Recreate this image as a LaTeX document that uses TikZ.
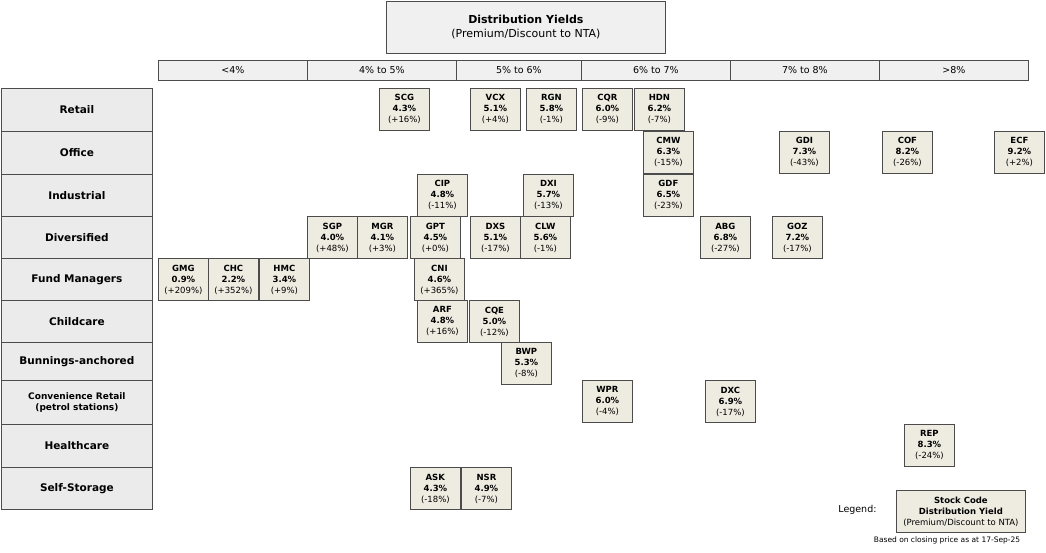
\documentclass[tikz,border=0pt]{standalone}
\usepackage{fontspec}
\setmainfont{DejaVu Sans}
\definecolor{beige}{HTML}{EEECE1}
\begin{document}
\begin{tikzpicture}[x=1pt,y=-1pt,
  hdr/.style={draw=black!70,fill=black!6,line width=0.8pt,font=\fontsize{9.5}{11}\selectfont,anchor=north west,inner sep=0pt},
  rowlab/.style={draw=black!70,fill=black!8,line width=0.8pt,font=\fontsize{10.5}{12}\selectfont\bfseries,anchor=north west,inner sep=0pt,align=center},
  stock/.style={draw=black!70,fill=beige,line width=0.8pt,anchor=north west,inner sep=0pt,minimum width=50pt,minimum height=42pt,align=center,font=\fontsize{8.5}{11}\selectfont}]
\useasboundingbox (0,0) rectangle (1046,552);
\node[draw=black!70,fill=black!6,line width=0.8pt,anchor=north west,minimum width=279pt,minimum height=52pt,inner sep=0pt,align=center,font=\fontsize{11}{14}\selectfont] (title) at (386,1) {\textbf{Distribution Yields}\\(Premium/Discount to NTA)};
\foreach \a/\b/\t [count=\i] in {158/307/{<4\%},307/456/{4\% to 5\%},456/581/{5\% to 6\%},581/730/{6\% to 7\%},730/879/{7\% to 8\%},879/1028/{>8\%}}
  \node[hdr,minimum width=\b-\a,minimum height=20pt] (h\i) at (\a,60) {\t};
\foreach \a/\b/\t [count=\i] in {88/131/Retail,131/174/Office,174/216/Industrial,216/258/Diversified,258/300/Fund Managers,300/342/Childcare,342/380/Bunnings-anchored,424/467/Healthcare,467/509/Self-Storage}
  \node[rowlab,minimum width=151pt,minimum height=\b-\a] (r\i) at (1,\a) {\t};
\node[rowlab,minimum width=151pt,minimum height=44pt,font=\fontsize{9}{11}\selectfont\bfseries] (rcv) at (1,380) {Convenience Retail\\(petrol stations)};
\foreach \n/\x/\y/\v/\p in {SCG/379/88/4.3/+16,VCX/470/88/5.1/+4,RGN/526/88/5.8/-1,CQR/582/88/6.0/-9,HDN/634/88/6.2/-7,
  CMW/643/131/6.3/-15,GDI/779/131/7.3/-43,COF/882/131/8.2/-26,ECF/994/131/9.2/+2,
  CIP/417/174/4.8/-11,DXI/523/174/5.7/-13,GDF/643/174/6.5/-23,
  SGP/307/216/4.0/+48,MGR/357/216/4.1/+3,GPT/410/216/4.5/+0,DXS/470/216/5.1/-17,CLW/520/216/5.6/-1,ABG/700/216/6.8/-27,GOZ/772/216/7.2/-17,
  GMG/158/258/0.9/+209,CHC/208/258/2.2/+352,HMC/259/258/3.4/+9,CNI/414/258/4.6/+365,
  ARF/417/300/4.8/+16,CQE/469/300/5.0/-12,BWP/501/342/5.3/-8,WPR/582/380/6.0/-4,DXC/705/380/6.9/-17,
  REP/904/424/8.3/-24,ASK/410/467/4.3/-18,NSR/461/467/4.9/-7}
  \node[stock] (\n) at (\x,\y) {\textbf{\n}\\\textbf{\v\%}\\(\p\%)};
\node[stock,minimum width=129pt] (leg) at (896,490) {\textbf{Stock Code}\\\textbf{Distribution Yield}\\(Premium/Discount to NTA)};
\node[font=\fontsize{9.5}{11}\selectfont,anchor=east] (legl) at (880,510) {Legend:};
\node[font=\fontsize{7.5}{9}\selectfont] (foot) at (947,540) {Based on closing price as at 17-Sep-25};
\end{tikzpicture}
\end{document}
